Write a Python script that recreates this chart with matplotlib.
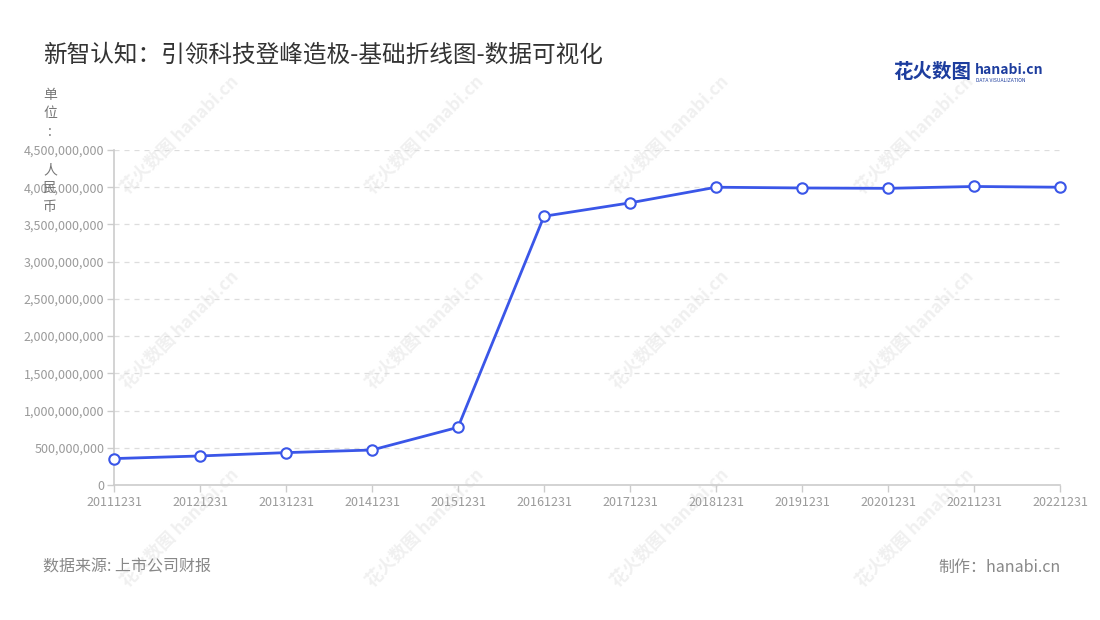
import matplotlib
matplotlib.use("Agg")
import matplotlib.pyplot as plt
from matplotlib.ticker import FuncFormatter

plt.rcParams['font.family'] = ['Noto Sans CJK SC', 'DejaVu Sans']

# 报告期与营收（单位：人民币）
periods = ["20111231", "20121231", "20131231", "20141231", "20151231", "20161231",
           "20171231", "20181231", "20191231", "20201231", "20211231", "20221231"]
revenue = [355e6, 390e6, 435e6, 470e6, 775e6, 3610e6,
           3790e6, 4000e6, 3990e6, 3985e6, 4010e6, 4000e6]
y_ticks = [0, 5e8, 1e9, 1.5e9, 2e9, 2.5e9, 3e9, 3.5e9, 4e9, 4.5e9]

W, H = 1100, 620
fig = plt.figure(figsize=(W / 100, H / 100), dpi=100)
fig.patch.set_facecolor("white")

ax = fig.add_axes([114 / W, 1 - 485 / H, (1060 - 114) / W, (485 - 150) / H])
ax.patch.set_alpha(0)

x = list(range(len(periods)))
ax.plot(x, revenue, color="#3a56e8", lw=2.0, marker="o", markersize=7.5,
        markerfacecolor="white", markeredgecolor="#3a56e8", markeredgewidth=1.5,
        clip_on=False, zorder=3)

ax.set_xlim(0, len(periods) - 1)
ax.set_ylim(0, 4.5e9)
ax.set_xticks(x)
ax.set_xticklabels(periods)
ax.set_yticks(y_ticks)
ax.yaxis.set_major_formatter(FuncFormatter(lambda v, p: "{:,.0f}".format(v)))

for s in ["top", "right"]:
    ax.spines[s].set_visible(False)
for s in ["left", "bottom"]:
    ax.spines[s].set_color("#cccccc")
    ax.spines[s].set_linewidth(1.2)
ax.tick_params(axis="both", colors="#cccccc", length=5, width=1, labelsize=9,
               labelcolor="#9a9a9a")
ax.tick_params(axis="x", pad=3)
ax.tick_params(axis="y", pad=2)
ax.grid(axis="y", color="#dddddd", linestyle=(0, (4, 4)), linewidth=0.9)
ax.set_axisbelow(True)

# 标题
fig.text(43 / W, 1 - 55 / H, "新智认知：引领科技登峰造极-基础折线图-数据可视化",
         fontsize=17, color="#333333", va="center", ha="left")

# 单位（竖排）
unit_chars = ["单", "位", ":", "人", "民", "币"]
unit_y = [95, 113, 132, 170, 188, 207]
for ch, yy in zip(unit_chars, unit_y):
    fig.text(50 / W, 1 - yy / H, ch, fontsize=10, color="#777777",
             ha="center", va="center")

# 标志
fig.text(893 / W, 1 - 73 / H, "花火数图", fontsize=14, fontweight="bold",
         color="#1d3d9e", ha="left", va="center")
fig.text(975 / W, 1 - 70 / H, "hanabi.cn", fontsize=10, fontweight="bold",
         color="#1d3d9e", ha="left", va="center")
fig.text(976 / W, 1 - 80 / H, "DATA VISUALIZATION", fontsize=3.6,
         color="#1d3d9e", ha="left", va="center")

# 水印
for cy in [135, 330, 528]:
    for cx in [180, 425, 670, 915]:
        fig.text(cx / W, 1 - cy / H, "花火数图 hanabi.cn", fontsize=12.5,
                 fontweight="bold", color="#f0f0f0", rotation=45,
                 ha="center", va="center", zorder=-1)

# 脚注
fig.text(43 / W, 1 - 567 / H, "数据来源: 上市公司财报", fontsize=11.5,
         color="#888888", ha="left", va="center")
fig.text(1061 / W, 1 - 567 / H, "制作：hanabi.cn", fontsize=11.5,
         color="#888888", ha="right", va="center")

fig.savefig("out.png", dpi=100, facecolor="white")
